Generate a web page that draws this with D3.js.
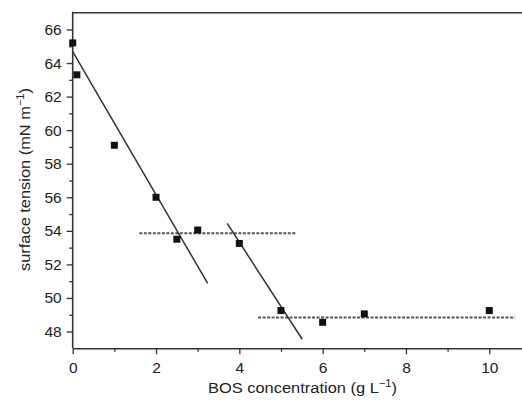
<!DOCTYPE html>
<html>
<head>
<meta charset="utf-8">
<script src="https://cdn.jsdelivr.net/npm/d3@7"></script>
<style>
  html, body { margin: 0; padding: 0; background: #fff; }
  svg { display: block; }
  text { font-family: "Liberation Sans", Arial, Helvetica, sans-serif; fill: #222; }
</style>
</head>
<body>
<svg id="chart" width="522" height="401"></svg>
<script>
// Measured surface tension versus BOS concentration
const concentration = [0, 0.1, 1, 2, 2.5, 3, 4, 5, 6, 7, 10];
const surfaceTension = [65.2, 63.3, 59.1, 56.0, 53.5, 54.05, 53.25, 49.25, 48.55, 49.05, 49.25];

// Linear fits through the two decreasing regions (start/end in data units)
const fitX1 = [0, 3.71];
const fitY1 = [64.68, 54.44];
const fitX2 = [3.24, 5.51];
const fitY2 = [50.87, 47.54];

// Plateau levels (dashed)
const plateauX1 = [1.6, 4.45];
const plateauX2 = [5.36, 10.62];
const plateauY = [53.86, 48.83];

// Axis ticks
const xMajorTicks = [0, 2, 4, 6, 8, 10];
const xMinorTicks = [1, 3, 5, 7, 9];
const yMajorTicks = [48, 50, 52, 54, 56, 58, 60, 62, 64, 66];
const yMinorTicks = [49, 51, 53, 55, 57, 59, 61, 63, 65];

const svg = d3.select("#chart");
const x = d3.scaleLinear().domain([0, 10.8]).range([72.7, 522.6]);
const y = d3.scaleLinear().domain([47, 67]).range([348.3, 12.7]);

const ink = "#333";

// top frame line
svg.append("line")
  .attr("x1", x(0)).attr("x2", x(10.8))
  .attr("y1", y(67)).attr("y2", y(67))
  .attr("stroke", ink).attr("stroke-width", 1.6);

// minor ticks
const xMinor = svg.append("g").attr("transform", `translate(0,${y(47)})`)
  .call(d3.axisBottom(x).tickValues(xMinorTicks).tickSize(3.5).tickFormat(""));
const yMinor = svg.append("g").attr("transform", `translate(${x(0)},0)`)
  .call(d3.axisLeft(y).tickValues(yMinorTicks).tickSize(3.5).tickFormat(""));
[xMinor, yMinor].forEach(g => {
  g.select(".domain").remove();
  g.selectAll("line").attr("stroke", ink).attr("stroke-width", 1.3);
});

// major axes
const xAxis = svg.append("g").attr("transform", `translate(0,${y(47)})`)
  .call(d3.axisBottom(x).tickValues(xMajorTicks).tickSize(6).tickPadding(8).tickSizeOuter(0).tickFormat(d3.format("d")));
const yAxis = svg.append("g").attr("transform", `translate(${x(0)},0)`)
  .call(d3.axisLeft(y).tickValues(yMajorTicks).tickSize(6).tickPadding(5).tickSizeOuter(0).tickFormat(d3.format("d")));
[xAxis, yAxis].forEach(g => {
  g.select(".domain").attr("stroke", ink).attr("stroke-width", 1.6);
  g.selectAll(".tick line").attr("stroke", ink).attr("stroke-width", 1.3);
  g.selectAll(".tick text")
    .style("font-family", '"Liberation Sans", Arial, sans-serif')
    .style("font-size", "15.5px")
    .attr("fill", "#1a1a1a");
});
// left axis runs slightly above the frame line
yAxis.select(".domain").attr("d", `M0,${y(47)}V${y(67) - 1}`);

// plateau lines (dashed)
svg.append("g").selectAll("line")
  .data(plateauY)
  .join("line")
  .attr("x1", (d, i) => x(plateauX1[i]))
  .attr("x2", (d, i) => x(plateauX2[i]))
  .attr("y1", d => y(d))
  .attr("y2", d => y(d))
  .attr("stroke", "#555")
  .attr("stroke-width", 2)
  .attr("stroke-dasharray", "3,1.5");

// fit lines
svg.append("g").selectAll("line")
  .data(fitX1)
  .join("line")
  .attr("x1", (d, i) => x(fitX1[i]))
  .attr("y1", (d, i) => y(fitY1[i]))
  .attr("x2", (d, i) => x(fitX2[i]))
  .attr("y2", (d, i) => y(fitY2[i]))
  .attr("stroke", "#333")
  .attr("stroke-width", 1.5);

// data points
const sz = 7;
svg.append("g").selectAll("rect")
  .data(concentration)
  .join("rect")
  .attr("x", (d) => x(d) - sz / 2)
  .attr("y", (d, i) => y(surfaceTension[i]) - sz / 2)
  .attr("width", sz)
  .attr("height", sz)
  .attr("fill", "#111");

// axis titles
const xTitle = svg.append("text")
  .attr("x", 302.5).attr("y", 393)
  .attr("text-anchor", "middle")
  .attr("textLength", 189).attr("lengthAdjust", "spacingAndGlyphs")
  .style("font-size", "15.5px");
xTitle.append("tspan").text("BOS concentration (g L");
xTitle.append("tspan").attr("dy", -6).style("font-size", "10.5px").text("\u22121");
xTitle.append("tspan").attr("dy", 6).text(")");

const yTitle = svg.append("text")
  .attr("transform", "translate(29.5,179.5) rotate(-90)")
  .attr("text-anchor", "middle")
  .attr("textLength", 183).attr("lengthAdjust", "spacingAndGlyphs")
  .style("font-size", "15.5px");
yTitle.append("tspan").text("surface tension (mN m");
yTitle.append("tspan").attr("dy", -6).style("font-size", "10.5px").text("\u22121");
yTitle.append("tspan").attr("dy", 6).text(")");
</script>
</body>
</html>
